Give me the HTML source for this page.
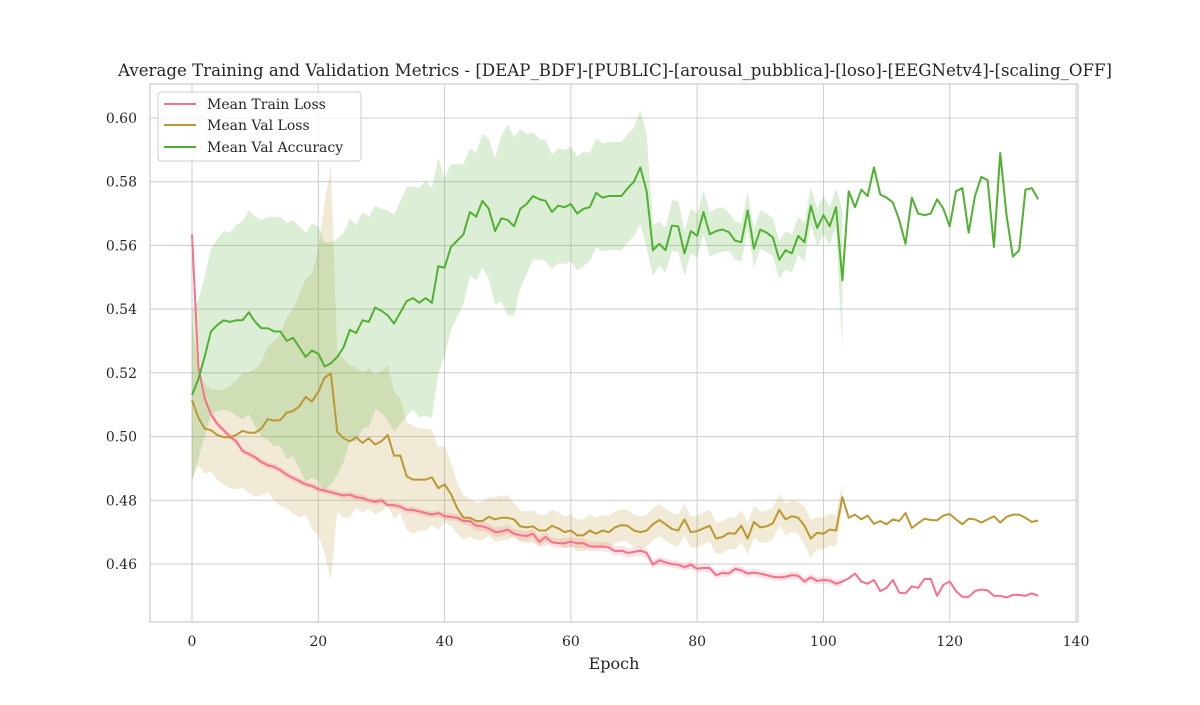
<!DOCTYPE html>
<html><head><meta charset="utf-8"><style>
body{margin:0;background:#fff;}
svg text{font-family:"DejaVu Serif","Liberation Serif",serif;fill:#262626;}
</style></head><body>
<svg id="chart" width="1200" height="700" xmlns="http://www.w3.org/2000/svg">
<rect width="1200" height="700" fill="#fff"/>
<text x="615" y="76" font-size="16.6" text-anchor="middle">Average Training and Validation Metrics - [DEAP_BDF]-[PUBLIC]-[arousal_pubblica]-[loso]-[EEGNetv4]-[scaling_OFF]</text>
<g id="grid"></g><g id="bands"></g><g id="lines"></g><g id="axes"></g>
<text x="614" y="669" font-size="16" text-anchor="middle">Epoch</text>
<g>
<rect x="158" y="92" width="203" height="69" rx="3" fill="#fff" fill-opacity="0.8" stroke="#ccc"/>
<line x1="164" y1="104" x2="196" y2="104" stroke="#f77189" stroke-width="2"/>
<text x="207" y="109" font-size="14">Mean Train Loss</text>
<line x1="164" y1="125" x2="196" y2="125" stroke="#bb9832" stroke-width="2"/>
<text x="207" y="130" font-size="14">Mean Val Loss</text>
<line x1="164" y1="147" x2="196" y2="147" stroke="#50b131" stroke-width="2"/>
<text x="207" y="152" font-size="14">Mean Val Accuracy</text>
</g>
</svg>
<script>
const xTicks=[0,20,40,60,80,100,120,140];
const yTicks=[0.46,0.48,0.50,0.52,0.54,0.56,0.58,0.60];
const trainLoss=[0.5635,0.522,0.512,0.507,0.504,0.502,0.500,0.4985,0.4955,0.4945,0.4935,0.492,0.491,0.4905,0.4895,0.488,0.487,0.486,0.485,0.4845,0.4835,0.483,0.4825,0.482,0.4815,0.4818,0.481,0.4807,0.480,0.4795,0.4800,0.4785,0.4785,0.478,0.477,0.477,0.4765,0.476,0.4755,0.476,0.475,0.4748,0.4745,0.4735,0.4735,0.472,0.4718,0.4712,0.4700,0.4702,0.4708,0.4695,0.469,0.4688,0.4695,0.467,0.4685,0.4668,0.4665,0.4665,0.4670,0.4665,0.4665,0.4655,0.4655,0.4655,0.4652,0.464,0.4642,0.4635,0.4638,0.4642,0.4635,0.4598,0.4612,0.4605,0.460,0.4598,0.459,0.4598,0.4585,0.4588,0.4587,0.4565,0.4572,0.457,0.4585,0.458,0.457,0.4573,0.457,0.4565,0.456,0.4558,0.456,0.4565,0.4563,0.4545,0.4558,0.4547,0.4550,0.4548,0.4538,0.4545,0.4555,0.457,0.4545,0.4538,0.455,0.4515,0.4525,0.455,0.451,0.4508,0.453,0.4525,0.4553,0.4553,0.450,0.4535,0.4545,0.4515,0.4497,0.4497,0.4515,0.452,0.4517,0.450,0.450,0.4495,0.4503,0.4503,0.450,0.4508,0.450];
const valLoss=[0.5115,0.506,0.5025,0.502,0.5005,0.4998,0.4998,0.5005,0.5018,0.5012,0.5012,0.5025,0.5055,0.505,0.5052,0.5075,0.5080,0.5095,0.5125,0.511,0.514,0.5185,0.5198,0.5015,0.4995,0.4985,0.4998,0.498,0.4995,0.4975,0.4985,0.5005,0.494,0.494,0.4875,0.4865,0.4865,0.4865,0.4872,0.4838,0.485,0.482,0.4775,0.4745,0.4745,0.4735,0.4735,0.4748,0.4740,0.4745,0.4745,0.474,0.4718,0.4715,0.4718,0.4705,0.4705,0.472,0.4712,0.470,0.4705,0.469,0.469,0.4705,0.4695,0.4705,0.470,0.4715,0.4722,0.472,0.4705,0.470,0.4705,0.4725,0.4738,0.4725,0.471,0.4705,0.474,0.4700,0.4703,0.4712,0.472,0.4680,0.4685,0.4697,0.4695,0.472,0.468,0.4732,0.4715,0.4718,0.4728,0.4770,0.474,0.475,0.4745,0.472,0.468,0.4698,0.4695,0.4708,0.4705,0.481,0.4745,0.4755,0.474,0.4752,0.4726,0.4735,0.4725,0.474,0.4735,0.476,0.4713,0.4728,0.4742,0.4738,0.4737,0.4752,0.4757,0.474,0.4725,0.4742,0.4740,0.473,0.474,0.475,0.473,0.4748,0.4755,0.4755,0.4745,0.4732,0.4737];
const valAcc=[0.513,0.518,0.525,0.533,0.535,0.5365,0.536,0.5365,0.5365,0.539,0.536,0.534,0.534,0.533,0.533,0.530,0.531,0.528,0.525,0.527,0.526,0.522,0.523,0.525,0.528,0.5335,0.5325,0.5365,0.536,0.5405,0.5395,0.538,0.5355,0.539,0.5425,0.5435,0.542,0.5435,0.542,0.5535,0.553,0.5595,0.5615,0.5635,0.5705,0.569,0.574,0.5715,0.5645,0.5685,0.568,0.566,0.5715,0.573,0.5755,0.5745,0.574,0.5705,0.5725,0.572,0.573,0.570,0.5715,0.572,0.5765,0.5750,0.5755,0.5755,0.5755,0.578,0.580,0.5845,0.577,0.5585,0.5605,0.5585,0.5662,0.566,0.5575,0.5645,0.563,0.5705,0.5635,0.5645,0.565,0.5642,0.5615,0.561,0.571,0.559,0.565,0.564,0.5625,0.5555,0.5585,0.5575,0.563,0.561,0.5725,0.5655,0.5695,0.566,0.572,0.549,0.577,0.5720,0.5775,0.5755,0.5845,0.576,0.575,0.5735,0.568,0.5605,0.575,0.570,0.5695,0.570,0.5745,0.5715,0.566,0.5770,0.578,0.564,0.5755,0.5815,0.5805,0.5595,0.589,0.5695,0.5565,0.5585,0.5775,0.578,0.5745];
const accStd=[0.027,0.025,0.025,0.026,0.027,0.028,0.028,0.03,0.031,0.032,0.033,0.034,0.035,0.036,0.036,0.037,0.037,0.038,0.039,0.04,0.04,0.039,0.038,0.037,0.036,0.035,0.034,0.034,0.033,0.032,0.032,0.033,0.034,0.035,0.036,0.035,0.036,0.037,0.036,0.034,0.028,0.026,0.024,0.022,0.02,0.02,0.021,0.022,0.023,0.026,0.03,0.028,0.025,0.022,0.02,0.019,0.019,0.018,0.018,0.018,0.018,0.018,0.018,0.017,0.017,0.017,0.017,0.017,0.017,0.017,0.017,0.018,0.018,0.008,0.007,0.007,0.008,0.008,0.007,0.007,0.007,0.007,0.007,0.007,0.007,0.006,0.006,0.006,0.006,0.006,0.006,0.006,0.006,0.006,0.006,0.006,0.006,0.006,0.006,0.006,0.006,0.006,0.006,0.022];
const valLossStd=[0.025,0.015,0.014,0.013,0.014,0.015,0.016,0.017,0.018,0.019,0.02,0.021,0.023,0.025,0.027,0.03,0.032,0.035,0.037,0.04,0.045,0.055,0.065,0.025,0.025,0.024,0.022,0.022,0.022,0.022,0.022,0.022,0.02,0.018,0.017,0.017,0.016,0.016,0.015,0.013,0.012,0.01,0.008,0.007,0.006,0.006,0.006,0.006,0.007,0.007,0.007,0.005,0.005,0.005,0.005,0.005,0.005,0.005,0.005,0.005,0.005,0.005,0.005,0.005,0.005,0.005,0.005,0.005,0.005,0.005,0.005,0.005,0.005,0.005,0.005,0.005,0.005,0.005,0.005,0.005,0.005,0.005,0.005,0.005,0.005,0.005,0.005,0.005,0.005,0.005,0.005,0.005,0.005,0.005,0.005,0.005,0.005,0.006,0.006,0.005,0.005,0.005,0.005,0.004];
const trainStd=[0.001,0.0012,0.001,0.001,0.001,0.001,0.001,0.001,0.001,0.001,0.001,0.001,0.001,0.001,0.001,0.001,0.001,0.001,0.001,0.001,0.001,0.001,0.001,0.001,0.001,0.001,0.001,0.001,0.001,0.001,0.001,0.001,0.001,0.001,0.001,0.001,0.001,0.001,0.001,0.001,0.0012,0.0012,0.0012,0.0012,0.0015,0.0015,0.0015,0.0015,0.0015,0.0015,0.0015,0.0015,0.0015,0.0015,0.0015,0.0015,0.0015,0.0015,0.0015,0.0015,0.0015,0.0015,0.0015,0.0015,0.0015,0.0015,0.0015,0.0015,0.0015,0.0015,0.0015,0.0015,0.0015,0.0012,0.0012,0.0012,0.0012,0.0012,0.0012,0.0012,0.0012,0.0012,0.0012,0.0012,0.0012,0.0012,0.0012,0.0012,0.0012,0.0012,0.0012,0.0012,0.0012,0.0012,0.0012,0.0012,0.0012,0.0012,0.0012,0.0012,0.0012,0.0012,0.0012,0.0012];

const L=150,R=1078,T=84,B=622;
const xs=e=>192+(e-0)*(1076-192)/140;
const ys=v=>564-(v-0.46)*(564-118)/0.14;
const NS="http://www.w3.org/2000/svg";
function mk(tag,attrs,parent){const el=document.createElementNS(NS,tag);for(const k in attrs)el.setAttribute(k,attrs[k]);parent.appendChild(el);return el;}
const grid=document.getElementById('grid'),axes=document.getElementById('axes'),bands=document.getElementById('bands'),lines=document.getElementById('lines');
xTicks.forEach(t=>{
  const g=mk('line',{x1:xs(t),x2:xs(t),y1:T,y2:B,stroke:'#cccccc','stroke-width':1},grid);
  
  
  const tx=mk('text',{x:xs(t),y:B+24,'font-size':14,'text-anchor':'middle'},axes);tx.textContent=t;
  
  
});
yTicks.forEach(t=>{
  const g=mk('line',{x1:L,x2:R,y1:ys(t),y2:ys(t),stroke:'#cccccc','stroke-width':1},grid);
  
  
  const tx=mk('text',{x:L-13,y:ys(t)+5,'font-size':14,'text-anchor':'end'},axes);tx.textContent=t.toFixed(2);
  
  
});
const frame=mk('rect',{x:L,y:T,width:R-L,height:B-T,fill:'none',stroke:'#cccccc','stroke-width':1.2},axes);


function band(mean,sd,color,name){
  const n=sd.length;let up=[],dn=[];
  for(let i=0;i<n;i++){up.push(xs(i)+','+ys(mean[i]+sd[i]));dn.unshift(xs(i)+','+ys(mean[i]-sd[i]));}
  const p=mk('polygon',{points:up.concat(dn).join(' '),fill:color,'fill-opacity':0.2},bands);
  
  
}
function line(mean,color,name){
  const p=mk('polyline',{points:mean.map((v,i)=>xs(i)+','+ys(v)).join(' '),fill:'none',stroke:color,'stroke-width':2,'stroke-linejoin':'round'},lines);
  
  
}
band(trainLoss,trainStd,'#f77189','train-loss-band');
band(valLoss,valLossStd,'#bb9832','val-loss-band');
band(valAcc,accStd,'#50b131','val-accuracy-band');
line(trainLoss,'#f77189','train-loss-line');
line(valLoss,'#bb9832','val-loss-line');
line(valAcc,'#50b131','val-accuracy-line');
</script>
</body></html>
